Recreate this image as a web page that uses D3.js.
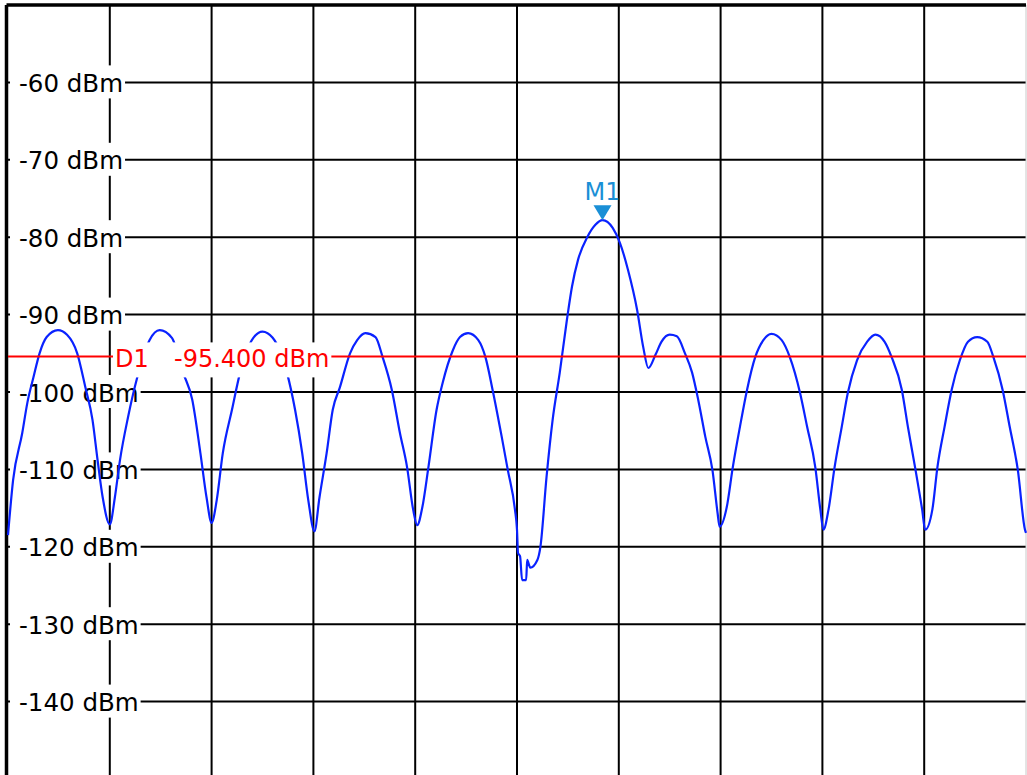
<!DOCTYPE html>
<html>
<head>
<meta charset="utf-8">
<script src="https://cdn.jsdelivr.net/npm/d3@7"></script>
<style>
  body { margin: 0; background: #fff; }
  text { font-family: "DejaVu Sans", Verdana, sans-serif; }
</style>
</head>
<body>
<script>
// Spectrum trace, read off the screen shot
// sweep position in grid divisions (0..10)
var sweepPos = [0.00, 0.05, 0.14, 0.19, 0.25, 0.31, 0.38, 0.49, 0.58, 0.68, 0.76, 0.83, 0.88, 0.93, 1.00,
  1.05, 1.10, 1.18, 1.27, 1.39, 1.49, 1.61, 1.72, 1.81, 1.89, 1.95, 2.00,
  2.05, 2.11, 2.20, 2.28, 2.41, 2.50, 2.60, 2.74, 2.82, 2.89, 2.95, 3.01,
  3.06, 3.13, 3.19, 3.26, 3.36, 3.43, 3.51, 3.61, 3.68, 3.77, 3.85, 3.92, 3.98, 4.02,
  4.07, 4.13, 4.21, 4.27, 4.37, 4.44, 4.52, 4.62, 4.69, 4.76, 4.85, 4.91, 4.98, 5.00,
  5.01, 5.03, 5.05, 5.09, 5.10, 5.13, 5.20, 5.23, 5.29, 5.35, 5.42, 5.49, 5.54, 5.60,
  5.69, 5.77, 5.84, 5.94, 6.01, 6.09, 6.18, 6.24, 6.29, 6.36, 6.42, 6.50, 6.57,
  6.65, 6.72, 6.78, 6.85, 6.92, 6.97, 6.99, 7.06, 7.12, 7.19, 7.26, 7.34, 7.42, 7.50,
  7.60, 7.68, 7.78, 7.85, 7.93, 7.98, 8.01, 8.06, 8.12, 8.19, 8.25, 8.34, 8.44, 8.52,
  8.61, 8.68, 8.78, 8.84, 8.91, 8.98, 9.01, 9.08, 9.13, 9.20, 9.27, 9.35, 9.43, 9.52,
  9.62, 9.68, 9.77, 9.84, 9.92, 9.99, 10.0];
// level in dBm
var traceLevel = [-118.5, -111.4, -105.3, -101.4, -98.1, -95.0, -92.9, -92.0, -92.6, -95.0, -99.4, -103.6, -108.8, -113.6, -117.1,
  -113.6, -108.8, -103.2, -98.1, -93.3, -92.0, -93.0, -97.5, -101.0, -107.9, -113.6, -116.9,
  -114.0, -107.9, -102.3, -97.5, -93.0, -92.2, -93.0, -97.5, -102.3, -107.9, -114.0, -118.0,
  -113.6, -107.9, -102.3, -99.4, -95.0, -93.3, -92.4, -92.9, -95.5, -99.7, -105.3, -109.7, -115.2, -117.2,
  -114.9, -109.7, -102.3, -98.8, -94.6, -92.9, -92.4, -93.3, -95.5, -99.7, -105.8, -110.1, -115.2, -117.8,
  -120.8, -121.2, -124.3, -124.3, -121.7, -122.7, -121.7, -120.0, -111.0, -103.6, -97.5, -90.7, -86.4, -82.9,
  -80.0, -78.4, -77.8, -78.8, -80.7, -84.2, -89.4, -94.2, -96.9, -95.2, -93.5, -92.6, -92.8,
  -95.0, -97.5, -101.0, -105.8, -110.1, -115.6, -117.4, -114.9, -109.7, -104.5, -99.7, -95.5, -93.3, -92.5,
  -93.3, -95.5, -100.1, -104.5, -109.7, -115.2, -117.8, -115.2, -109.7, -104.5, -100.1, -95.9, -93.5, -92.6,
  -93.5, -95.5, -99.7, -104.5, -109.7, -115.2, -117.8, -115.2, -109.7, -104.5, -99.7, -95.9, -93.5, -92.9,
  -93.5, -95.5, -99.7, -104.5, -110.1, -117.8, -118.2];

var levelTicks = [-60, -70, -80, -90, -100, -110, -120, -130, -140];
var freqGrid = [1, 2, 3, 4, 5, 6, 7, 8, 9];
var displayLine = -95.4;
var displayName = "D1";
var displayValue = "-95.400 dBm";
var markerName = "M1";
var markerPos = 5.84;
var markerLevel = -77.8;

var W = 1027, H = 775;
var svg = d3.select("body").append("svg")
  .attr("width", W).attr("height", H);

var x = d3.scaleLinear().domain([0, 10]).range([8, 1026]);
var y = d3.scaleLinear().domain([-150, -50]).range([779, 5]);

// grid
svg.selectAll(".vgrid").data(freqGrid).enter().append("line")
  .attr("class", "vgrid")
  .attr("x1", function(d) { return x(d); }).attr("x2", function(d) { return x(d); })
  .attr("y1", y(-50)).attr("y2", H)
  .attr("stroke", "#000").attr("stroke-width", 2);

svg.selectAll(".hgrid").data(levelTicks).enter().append("line")
  .attr("class", "hgrid")
  .attr("x1", x(0)).attr("x2", x(10))
  .attr("y1", function(d) { return y(d); }).attr("y2", function(d) { return y(d); })
  .attr("stroke", "#000").attr("stroke-width", 2);

// right edge (light) and frame
svg.append("line").attr("x1", x(10)).attr("x2", x(10)).attr("y1", y(-50)).attr("y2", H)
  .attr("stroke", "#c8c8c8").attr("stroke-width", 1);
svg.append("line").attr("x1", x(0) - 1.5).attr("x2", x(10)).attr("y1", y(-50)).attr("y2", y(-50))
  .attr("stroke", "#000").attr("stroke-width", 3.5);
svg.append("line").attr("x1", x(0) - 1.5).attr("x2", x(0) - 1.5).attr("y1", y(-50)).attr("y2", H)
  .attr("stroke", "#000").attr("stroke-width", 3.5);

// level labels with white background
var lab = svg.selectAll(".ylab").data(levelTicks).enter().append("g").attr("class", "ylab");
lab.append("rect")
  .attr("x", 10)
  .attr("y", function(d) { return y(d) - 17; })
  .attr("height", 33)
  .attr("fill", "#fff");
lab.append("text")
  .attr("x", 19)
  .attr("y", function(d) { return y(d) + 9.5; })
  .style("font-size", "24.5px")
  .attr("fill", "#000")
  .text(function(d) { return d + " dBm"; });
lab.each(function() {
  var g = d3.select(this);
  var bb = g.select("text").node().getBBox();
  g.select("rect").attr("width", bb.x + bb.width + 2 - 10);
});

// trace
var line = d3.line()
  .x(function(d, i) { return x(sweepPos[i]); })
  .y(function(d) { return y(d); })
  .curve(d3.curveMonotoneX);

svg.append("path")
  .datum(traceLevel)
  .attr("d", line)
  .attr("fill", "none")
  .attr("stroke", "#0a22ff")
  .attr("stroke-width", 2.2)
  .attr("stroke-linejoin", "round");

// display line D1
svg.append("line")
  .attr("x1", x(0)).attr("x2", x(10))
  .attr("y1", y(displayLine)).attr("y2", y(displayLine))
  .attr("stroke", "#ff0000").attr("stroke-width", 2);

var d1 = svg.append("g");
var d1bg = d1.append("rect").attr("fill", "#fff");
var d1txt = d1.append("text")
  .attr("y", y(displayLine) + 10.5)
  .style("font-size", "24px")
  .attr("fill", "#ff0000");
d1txt.append("tspan").attr("x", 115).text(displayName);
d1txt.append("tspan").attr("x", 174).text(displayValue);
var dbb = d1txt.node().getBBox();
d1bg.attr("x", dbb.x - 2).attr("width", dbb.width + 4)
  .attr("y", y(displayLine) - 14).attr("height", 35);

// marker M1
var mx = x(markerPos), my = y(markerLevel);
svg.append("path")
  .attr("d", d3.line()([[mx - 9, my - 15], [mx + 9, my - 15], [mx, my]]) + "Z")
  .attr("fill", "#1a8fd6");
svg.append("text")
  .attr("x", mx)
  .attr("y", my - 20)
  .attr("text-anchor", "middle")
  .style("font-size", "24px")
  .attr("fill", "#1a8fd6")
  .text(markerName);
</script>
</body>
</html>
